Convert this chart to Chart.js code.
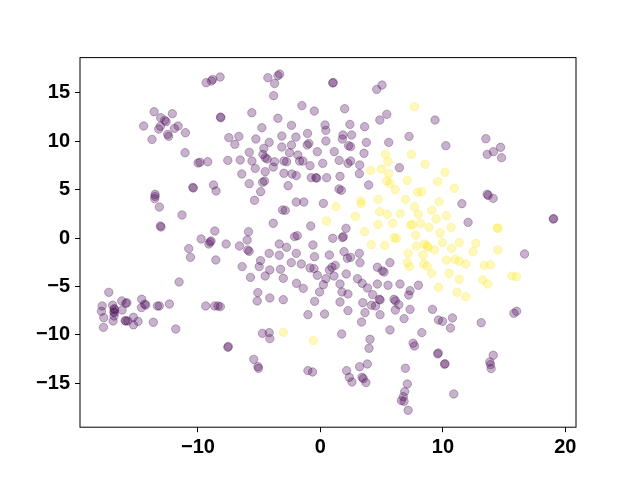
<!DOCTYPE html>
<html>
<head>
<meta charset="utf-8">
<script src="https://cdn.jsdelivr.net/npm/chart.js@4.4.0/dist/chart.umd.min.js"></script>
<style>
  html, body { margin: 0; padding: 0; background: #fff; }
  #wrap { width: 640px; height: 480px; }
</style>
</head>
<body>
<div id="wrap"><canvas id="scatterChart" width="640" height="480"></canvas></div>
<script>
// class 0 points (purple), [x, y]
var purplePoints = [
  [-9.33,16.06],[-8.90,16.24],[-8.79,16.41],[-8.19,16.65],[-13.58,13.06],[-13.04,12.44],[-12.71,12.17],[-12.60,12.03],
  [-12.09,12.86],[-14.43,11.58],[-13.20,11.27],[-13.07,11.55],[-12.47,10.72],[-12.39,10.51],[-13.75,10.20],[-11.62,11.58],
  [-11.92,11.34],[-11.02,10.89],[-8.16,12.51],[-8.13,12.44],[-7.48,10.38],[-6.66,10.51],[-6.99,9.69],[-11.05,8.82],
  [-9.99,7.76],[-9.83,7.83],[-9.20,7.89],[-7.56,8.03],[-6.55,8.07],[-6.42,6.62],[-8.73,5.48],[-8.52,4.86],
  [-10.37,5.17],[-10.42,5.24],[-13.50,4.52],[-13.50,4.31],[-13.53,4.07],[-13.15,3.21],[-11.30,2.38],[-13.01,1.14],
  [-13.07,1.24],[-8.62,0.72],[-9.74,-0.10],
  [-9.01,-0.41],[-8.93,-0.31],[-9.11,-0.62],[-7.70,-0.62],[-6.61,-0.83],[-10.75,-1.10],[-10.61,-2.00],[-8.54,-2.27],
  [-6.39,-2.96],[-11.54,-4.55],[-17.28,-5.62],[-17.82,-7.03],[-17.88,-7.58],[-17.69,-8.24],[-17.72,-9.24],[-16.96,-6.96],
  [-16.85,-7.31],[-16.80,-7.40],[-16.82,-7.72],[-16.87,-7.65],[-16.85,-8.07],[-16.93,-8.58],[-16.22,-6.51],[-15.89,-6.76],
  [-15.80,-6.70],[-16.19,-7.45],[-15.89,-8.58],[-15.95,-8.55],[-15.73,-8.58],[-15.27,-8.20],[-15.27,-8.99],[-14.89,-8.62],
  [-14.59,-6.34],[-14.61,-7.20],[-14.26,-6.93],[-14.35,-6.85],[-13.64,-8.72],[-13.31,-7.03],[-13.15,-7.03],[-12.33,-6.83],
  [-11.81,-9.41],[-9.36,-7.03],[-8.63,-7.03],[-8.36,-7.03],[-8.17,-7.10],[-7.56,-11.31],[-7.52,-11.22],
  [-4.29,16.58],[-3.47,16.79],[-3.33,16.96],[-3.74,15.99],[-3.82,14.72],[1.00,16.03],[1.05,16.08],[4.60,15.37],
  [5.03,15.82],[-5.60,12.96],[-1.51,13.69],[-0.50,13.13],[1.98,13.37],[-3.47,12.38],[-4.78,11.41],[-2.36,11.65],
  [0.38,11.69],[0.44,11.13],[2.41,11.75],[3.61,11.51],[4.85,12.20],[5.42,12.79],[-5.27,10.24],[-4.18,9.89],
  [-3.15,10.55],[-2.00,10.44],[-1.05,10.82],[-1.08,9.62],[-0.94,9.79],[0.45,10.03],[1.84,10.65],[1.79,10.24],
  [2.55,10.65],[2.47,9.45],[2.30,9.55],[3.75,9.89],[5.58,9.89],[7.24,10.51],[-5.81,8.86],[-5.59,7.96],
  [-4.62,9.27],[-4.70,8.65],[-4.51,8.31],[-4.35,8.17],[-5.32,7.20],[-4.51,6.86],[-3.85,7.34],[-3.75,7.89],
  [-3.15,9.41],[-2.36,9.62],[-2.52,8.82],[-2.98,7.96],[-2.76,7.89],[-1.84,8.58],[-1.70,7.96],[-1.43,7.96],
  [-0.85,7.48],[-0.25,8.93],[0.19,7.72],[1.13,8.93],[1.53,8.03],[2.25,7.72],[2.47,7.96],[3.21,7.55],
  [3.56,8.76],[3.18,6.65],[3.94,5.48],[6.45,7.27],[-5.81,5.62],[-4.72,5.76],[-4.56,5.89],[-4.88,4.79],
  [-5.38,3.90],[-2.98,6.69],[-2.32,6.62],[-1.97,6.45],[-2.64,5.41],[-0.75,6.24],[-0.37,6.24],[-0.30,6.20],
  [0.51,6.24],[1.60,6.38],[1.52,5.07],[1.71,4.93],[-1.97,3.72],[-1.35,3.72],[0.24,3.58],[-3.09,2.90],
  [-2.87,2.86],[-3.85,1.52],[-0.79,1.24],[-5.87,0.65],[-5.98,-0.21],[-2.11,0.14],[-1.89,0.24],[1.01,-0.03],
  [1.87,0.14],[1.80,0.05],[2.09,1.00],
  [9.36,12.20],[10.24,9.55],[13.51,10.27],[13.62,8.65],[14.13,8.93],[14.71,9.38],[14.79,8.31],[11.55,3.55],
  [12.06,1.62],[13.62,4.52],[13.70,4.40],[14.11,4.10],[19.01,1.96],[19.05,2.00],
  [-5.93,-1.24],[-5.82,-1.38],[-3.36,-0.62],[-2.76,-0.97],[-0.61,-0.72],[1.93,-1.41],[2.47,-2.00],[2.20,-2.10],
  [3.18,-1.59],[3.23,-2.55],[-4.18,-1.59],[-3.36,-1.79],[-1.97,-1.59],[-0.48,-1.93],[0.73,-1.76],[-4.89,-2.34],
  [-5.00,-2.96],[-4.13,-3.31],[-3.26,-3.24],[-2.38,-2.55],[-1.56,-2.69],[-0.85,-3.10],[-0.52,-3.17],[-0.25,-3.86],
  [0.73,-3.31],[0.94,-3.03],[1.21,-2.83],[1.11,-3.93],[0.45,-4.21],[0.24,-4.83],[-0.07,-5.58],[-5.71,-4.07],
  [-4.51,-3.93],[-3.03,-4.17],[-1.95,-4.69],[-1.40,-5.21],[-5.11,-5.65],[-5.16,-6.51],[-4.13,-6.20],[-3.03,-6.38],
  [-0.47,-6.55],[-1.02,-7.93],[0.34,-7.86],[1.60,-4.76],[1.76,-5.58],[2.25,-5.79],[2.11,-3.72],[3.03,-4.21],
  [3.41,-4.69],[3.84,-5.17],[4.27,-5.86],[3.46,-6.69],[4.17,-6.96],[4.50,-7.03],[4.81,-6.34],[4.88,-6.40],
  [4.65,-4.76],[5.20,-3.52],[5.05,-3.40],[4.65,-3.03],[5.68,-2.55],[5.52,-4.89],[6.50,-4.76],[6.01,-6.34],
  [6.12,-6.50],[6.40,-6.89],[6.12,-7.45],[7.32,-5.45],[7.21,-5.89],[7.32,-7.38],[6.83,-8.34],[4.87,-7.93],
  [3.64,-7.72],[3.36,-8.69],[1.60,-6.62],[2.25,-7.51],[5.68,-9.51],[-4.73,-9.86],[-4.18,-9.79],[-4.13,-10.41],
  [1.74,-9.93],[4.05,-10.48],[3.97,-11.41],[-5.44,-12.55],[-5.05,-13.48],[-5.10,-13.30],[-1.02,-13.72],[-0.64,-13.86],
  [2.14,-13.72],[2.36,-14.41],[2.58,-14.89],[3.20,-13.31],[3.83,-13.03],[3.40,-14.41],[3.50,-14.55],[3.72,-14.96],
  [6.94,-13.48],[7.10,-15.10],[6.88,-15.89],[6.77,-16.41],[6.61,-16.82],[6.83,-16.89],[7.16,-17.82],
  [16.67,-1.65],[8.00,-4.89],[9.15,-7.38],[9.64,-8.48],[9.97,-8.62],[10.78,-8.27],[10.62,-9.31],[13.13,-8.76],
  [15.80,-7.79],[16.02,-7.58],[8.28,-9.79],[7.57,-10.89],[7.68,-11.17],[9.58,-11.99],[9.62,-11.90],[10.13,-13.06],
  [10.18,-13.00],[14.11,-12.13],[13.83,-12.82],[13.89,-13.10],[13.94,-13.51],[10.89,-16.13]
];

// class 1 points (yellow), [x, y]
var yellowPoints = [
  [5.31,8.65],[5.52,7.89],[4.98,7.14],[5.58,6.65],[4.11,7.00],[5.42,5.89],[5.69,5.65],[6.10,5.00],
  [7.10,5.96],[7.43,8.65],[4.71,4.00],[3.29,3.83],[3.34,3.55],[1.27,3.24],[0.51,1.76],[2.85,2.24],
  [4.84,2.72],[5.47,2.45],[6.51,2.52],[6.95,4.00],[4.70,1.41],[5.90,1.52],[7.38,1.34],[3.61,0.65],
  [6.01,0.03],[6.20,-0.03],
  [7.67,13.58],[8.55,7.62],[10.18,6.79],[9.58,5.83],[7.95,4.72],[8.28,4.79],[10.94,5.14],[9.69,3.76],
  [7.68,3.21],[8.00,2.45],[9.09,2.86],[9.45,1.96],[10.29,2.31],[7.51,1.41],[8.17,1.48],[8.87,1.10],
  [10.67,1.10],[9.77,0.52],[7.78,0.31],[14.43,1.03],[14.50,1.00],
  [4.16,-0.69],[5.25,-0.76],[7.16,-1.59],[7.10,-2.55],[7.27,-2.96],[-3.03,-9.76],[-0.58,-10.62],
  [7.84,-0.83],[8.49,-0.62],[8.71,-0.83],[8.80,-0.95],[8.38,-1.79],[9.31,-1.24],[9.96,-0.48],[10.70,-1.07],
  [11.33,-0.48],[12.69,-0.55],[12.47,-1.41],[14.49,-1.24],[8.44,-2.69],[8.71,-2.90],[10.29,-2.28],[11.00,-2.21],
  [11.33,-2.41],[11.88,-2.69],[9.09,-3.65],[10.51,-3.65],[11.33,-4.27],[9.64,-5.10],[11.16,-5.62],[11.87,-6.07],
  [13.37,-2.83],[13.89,-2.76],[13.24,-4.34],[13.67,-4.76],[15.64,-3.93],[16.02,-4.00]
];

var xTicks = [-10, 0, 10, 20];
var yTicks = [-15, -10, -5, 0, 5, 10, 15];
var xRange = [-19.63, 20.87];
var yRange = [-19.57, 18.66];

function toXY(pts) {
    return pts.map(p => ({ x: p[0], y: p[1] }));
}

function tickText(value) {
    return value < 0 ? '\u2212' + Math.abs(value) : '' + value;
}

// box around the plot area, like the matplotlib spines
var frameBox = {
    id: 'frameBox',
    afterDraw: function (chart) {
        var a = chart.chartArea;
        var ctx = chart.ctx;
        ctx.save();
        ctx.strokeStyle = '#000';
        ctx.lineWidth = 1;
        ctx.strokeRect(a.left, a.top, a.right - a.left, a.bottom - a.top);
        ctx.restore();
    }
};

var tickFont = { family: '"Liberation Sans", Arial, sans-serif', size: 20, weight: 'bold' };

var ctx = document.getElementById('scatterChart').getContext('2d');
var scatterChart = new Chart(ctx, {
    type: 'scatter',
    data: {
        datasets: [
            {
                label: '0',
                data: toXY(purplePoints),
                backgroundColor: 'rgba(68, 1, 84, 0.3)',
                borderColor: 'rgba(68, 1, 84, 0.3)',
                borderWidth: 1,
                pointRadius: 4.2,
                pointHoverRadius: 4.2
            },
            {
                label: '1',
                data: toXY(yellowPoints),
                backgroundColor: 'rgba(253, 231, 37, 0.3)',
                borderColor: 'rgba(253, 231, 37, 0.3)',
                borderWidth: 1,
                pointRadius: 4.2,
                pointHoverRadius: 4.2
            }
        ]
    },
    options: {
        responsive: false,
        devicePixelRatio: 1,
        animation: false,
        events: [],
        layout: { padding: { top: 57.6, right: 64, bottom: 0, left: 0 } },
        plugins: {
            legend: { display: false },
            tooltip: { enabled: false }
        },
        scales: {
            x: {
                type: 'linear',
                min: xRange[0],
                max: xRange[1],
                afterBuildTicks: function (scale) {
                    scale.ticks = xTicks.map(v => ({ value: v }));
                },
                afterFit: function (scale) {
                    scale.height = 480 - 427.2;
                },
                grid: { drawOnChartArea: false, drawTicks: true, tickLength: 5, tickColor: '#000', tickWidth: 1 },
                border: { display: false },
                ticks: {
                    color: '#000',
                    font: tickFont,
                    padding: 3,
                    maxRotation: 0,
                    autoSkip: false,
                    callback: tickText
                }
            },
            y: {
                type: 'linear',
                min: yRange[0],
                max: yRange[1],
                afterBuildTicks: function (scale) {
                    scale.ticks = yTicks.map(v => ({ value: v }));
                },
                afterFit: function (scale) {
                    scale.width = 80;
                },
                grid: { drawOnChartArea: false, drawTicks: true, tickLength: 5, tickColor: '#000', tickWidth: 1 },
                border: { display: false },
                ticks: {
                    color: '#000',
                    font: tickFont,
                    padding: 5,
                    autoSkip: false,
                    callback: tickText
                }
            }
        }
    },
    plugins: [frameBox]
});
</script>
</body>
</html>
